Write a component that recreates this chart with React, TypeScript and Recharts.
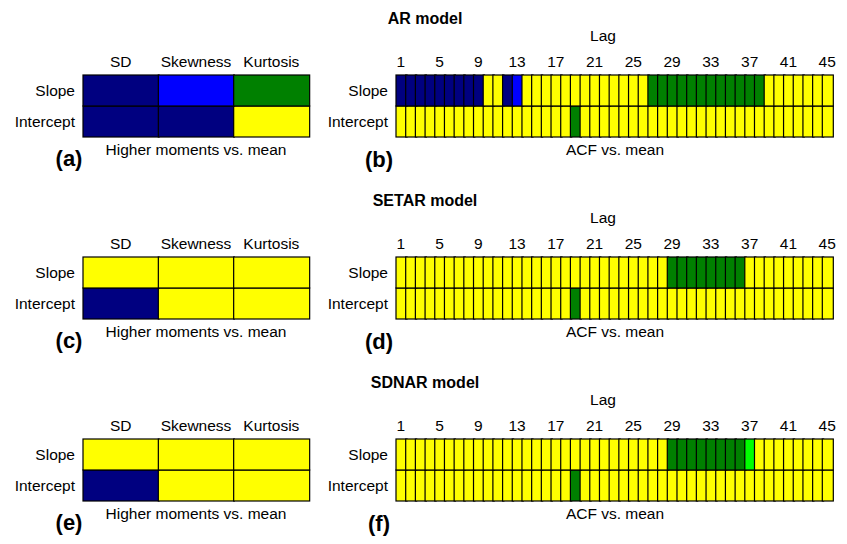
import React from 'react';
import { BarChart, Bar, XAxis, YAxis } from 'recharts';

const FONT = '"Liberation Sans", Arial, Helvetica, sans-serif';

const COLORS: Record<string, string> = {
  N: '#000080',
  B: '#0000FF',
  G: '#008000',
  Y: '#FFFF00',
  L: '#00FF00',
};

const lags = [
  1, 2, 3, 4, 5, 6, 7, 8, 9, 10, 11, 12, 13, 14, 15, 16, 17, 18, 19, 20, 21, 22, 23,
  24, 25, 26, 27, 28, 29, 30, 31, 32, 33, 34, 35, 36, 37, 38, 39, 40, 41, 42, 43, 44, 45,
];

const momentCategories = ['SD', 'Skewness', 'Kurtosis'];
const rowTicks = [0.5, 1.5];
const rowLabels = ['Intercept', 'Slope'];

// cell codes, one letter per lag (grouped by 5)
const arSlope = 'NNNNN NNNNY YNBYY YYYYY YYYYY YGGGG GGGGG GGGYY YYYYY';
const arIntercept = 'YYYYY YYYYY YYYYY YYYGY YYYYY YYYYY YYYYY YYYYY YYYYY';
const setarSlope = 'YYYYY YYYYY YYYYY YYYYY YYYYY YYYGG GGGGG GYYYY YYYYY';
const setarIntercept = 'YYYYY YYYYY YYYYY YYYGY YYYYY YYYYY YYYYY YYYYY YYYYY';
const sdnarSlope = 'YYYYY YYYYY YYYYY YYYYY YYYYY YYYGG GGGGG GLYYY YYYYY';
const sdnarIntercept = 'YYYYY YYYYY YYYYY YYYGY YYYYY YYYYY YYYYY YYYYY YYYYY';

const arMomSlope = ['N', 'B', 'G'];
const arMomIntercept = ['N', 'N', 'Y'];
const setarMomSlope = ['Y', 'Y', 'Y'];
const setarMomIntercept = ['N', 'Y', 'Y'];
const sdnarMomSlope = ['Y', 'Y', 'Y'];
const sdnarMomIntercept = ['N', 'Y', 'Y'];

const titles = ['AR model', 'SETAR model', 'SDNAR model'];
const leftLetters = ['(a)', '(c)', '(e)'];
const rightLetters = ['(b)', '(d)', '(f)'];

const codes = (s: string) => s.replace(/ /g, '').split('');

function buildRows(cats: (string | number)[], slope: string[], intercept: string[]) {
  return cats.map((c, i) => ({
    cat: c,
    intercept: 1,
    slope: 1,
    ic: COLORS[intercept[i]],
    sc: COLORS[slope[i]],
  }));
}

const panels = [
  {
    mom: buildRows(momentCategories, arMomSlope, arMomIntercept),
    acf: buildRows(lags, codes(arSlope), codes(arIntercept)),
  },
  {
    mom: buildRows(momentCategories, setarMomSlope, setarMomIntercept),
    acf: buildRows(lags, codes(setarSlope), codes(setarIntercept)),
  },
  {
    mom: buildRows(momentCategories, sdnarMomSlope, sdnarMomIntercept),
    acf: buildRows(lags, codes(sdnarSlope), codes(sdnarIntercept)),
  },
];

const gridTops = [75, 257, 439];

const tickStyle = { fill: '#000', fontSize: 15.5, fontFamily: FONT };

const makeShape = (key: 'ic' | 'sc') => (p: any) => (
  <rect
    x={p.x}
    y={p.y}
    width={p.width + 1}
    height={p.height}
    fill={p.payload[key]}
    stroke="#000"
    strokeWidth={1.2}
  />
);

const interceptShape = makeShape('ic');
const slopeShape = makeShape('sc');

function Txt({ x, y, children, size = 15.5, bold = false, anchor = 'middle' }: any) {
  return (
    <div
      style={{
        position: 'absolute',
        left: x,
        top: y,
        transform: anchor === 'middle' ? 'translate(-50%, -50%)' : 'translate(0, -50%)',
        fontFamily: FONT,
        fontSize: size,
        fontWeight: bold ? 'bold' : 'normal',
        lineHeight: 1,
        whiteSpace: 'nowrap',
        color: '#000',
      }}
    >
      {children}
    </div>
  );
}

function Grid({ data, width, left, yWidth, interval }: any) {
  return (
    <BarChart
      width={width}
      height={112}
      data={data}
      margin={{ top: 15, right: 5, bottom: 5, left }}
      barCategoryGap={0}
      barGap={0}
    >
      <XAxis
        dataKey="cat"
        type="category"
        orientation="top"
        height={30}
        axisLine={false}
        tickLine={false}
        interval={interval}
        tick={tickStyle}
      />
      <YAxis
        type="number"
        domain={[0, 2]}
        ticks={rowTicks}
        width={yWidth}
        axisLine={false}
        tickLine={false}
        tick={tickStyle}
        tickFormatter={(v: number) => rowLabels[rowTicks.indexOf(v)]}
      />
      <Bar dataKey="intercept" stackId="a" shape={interceptShape} isAnimationActive={false} />
      <Bar dataKey="slope" stackId="a" shape={slopeShape} isAnimationActive={false} />
    </BarChart>
  );
}

export default function App() {
  return (
    <div
      style={{
        position: 'absolute',
        left: 0,
        top: 0,
        width: 847,
        height: 544,
        background: '#fff',
        overflow: 'hidden',
      }}
    >
      {panels.map((p, i) => {
        const top = gridTops[i];
        return (
          <React.Fragment key={i}>
            <div style={{ position: 'absolute', left: 0, top: top - 45 }}>
              <Grid data={p.mom} width={314} left={23} yWidth={60} interval={0} />
            </div>
            <div style={{ position: 'absolute', left: 320, top: top - 45 }}>
              <Grid data={p.acf} width={517} left={6} yWidth={70} interval={3} />
            </div>
            <Txt x={425} y={top - 56} size={16} bold>
              {titles[i]}
            </Txt>
            <Txt x={603} y={top - 39}>Lag</Txt>
            <Txt x={196} y={top + 75}>Higher moments vs. mean</Txt>
            <Txt x={615} y={top + 75}>ACF vs. mean</Txt>
            <Txt x={69} y={top + 84} size={22} bold>
              {leftLetters[i]}
            </Txt>
            <Txt x={379} y={top + 85} size={22} bold>
              {rightLetters[i]}
            </Txt>
          </React.Fragment>
        );
      })}
    </div>
  );
}
